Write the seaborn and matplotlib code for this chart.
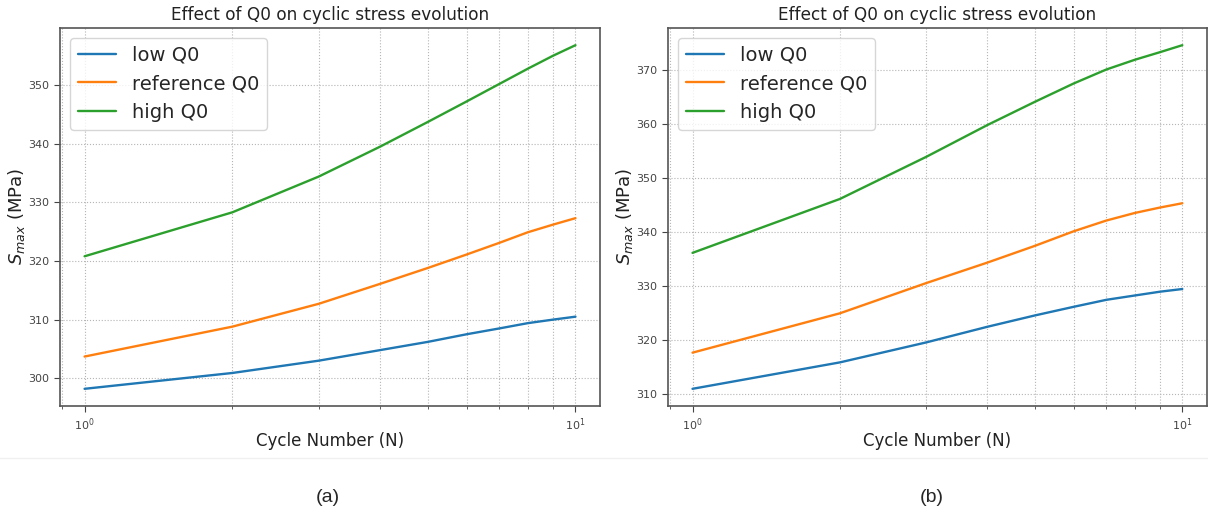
import matplotlib
matplotlib.use('Agg')
import matplotlib.pyplot as plt
from matplotlib.lines import Line2D
import pandas as pd
import seaborn as sns

#%% data
cycles = [1, 2, 3, 4, 5, 6, 7, 8, 9, 10]
case_names = ['low Q0', 'reference Q0', 'high Q0']

# panel (a)
a_low = [298.2, 300.9, 303.0, 304.8, 306.2, 307.5, 308.5, 309.4, 310.0, 310.5]
a_ref = [303.7, 308.8, 312.7, 316.1, 318.8, 321.1, 323.1, 324.9, 326.2, 327.3]
a_high = [320.8, 328.3, 334.4, 339.5, 343.7, 347.2, 350.2, 352.8, 355.0, 356.8]

# panel (b)
b_low = [310.9, 315.8, 319.5, 322.4, 324.5, 326.1, 327.4, 328.2, 328.9, 329.4]
b_ref = [317.6, 324.9, 330.5, 334.3, 337.4, 340.1, 342.1, 343.5, 344.5, 345.3]
b_high = [336.1, 346.1, 353.9, 359.8, 364.1, 367.5, 370.1, 371.9, 373.3, 374.6]

panel_tags = ['(a)', '(b)']

#%% style
sns.set_style('white')
plt.rcParams['font.family'] = ['DejaVu Sans']
colors = sns.color_palette('tab10', 3)


def long_frame(low, ref, high):
    return pd.DataFrame({
        'N': cycles * 3,
        'S': low + ref + high,
        'case': [case_names[0]] * len(cycles) + [case_names[1]] * len(cycles) + [case_names[2]] * len(cycles),
    })


def draw_panel(ax, df):
    sns.lineplot(data=df, x='N', y='S', hue='case', hue_order=case_names,
                 palette=colors, linewidth=1.7, ax=ax)
    ax.set_xscale('log')
    ax.grid(True, which='both', linestyle=':', color='#b5b5b5', linewidth=0.8)
    ax.tick_params(which='both', bottom=True, left=True, direction='out',
                   labelsize=8, colors='#444444')
    ax.tick_params(which='major', length=4)
    ax.tick_params(which='minor', length=2.5)
    for sp in ax.spines.values():
        sp.set_color('#555555')
        sp.set_linewidth(1.2)
    ax.set_title('Effect of Q0 on cyclic stress evolution', fontsize=12.2, color='#222222')
    ax.set_xlabel('Cycle Number (N)', fontsize=12, color='#222222', labelpad=-1)
    ax.set_ylabel('$S_{max}$ (MPa)', fontsize=13, color='#222222', labelpad=1)
    h, l = ax.get_legend_handles_labels()
    ax.legend(h, l, loc='upper left', fontsize=14, frameon=True, framealpha=0.8)


fig = plt.figure(figsize=(12.08, 5.13), dpi=100)
ax1 = fig.add_axes([0.0497, 0.2086, 0.4470, 0.7368])
ax2 = fig.add_axes([0.5530, 0.2086, 0.4460, 0.7368])

draw_panel(ax1, long_frame(a_low, a_ref, a_high))
draw_panel(ax2, long_frame(b_low, b_ref, b_high))

# faint separator above the panel tags
fig.add_artist(Line2D([0, 1], [1 - 458 / 513] * 2, color='#f0f0f0', linewidth=1))

fig.text(328 / 1208, 1 - 497 / 513, panel_tags[0], ha='center', va='center',
         fontsize=14, family=['Liberation Sans'])
fig.text(932 / 1208, 1 - 497 / 513, panel_tags[1], ha='center', va='center',
         fontsize=14, family=['Liberation Sans'])

plt.savefig('out.png', dpi=100)
